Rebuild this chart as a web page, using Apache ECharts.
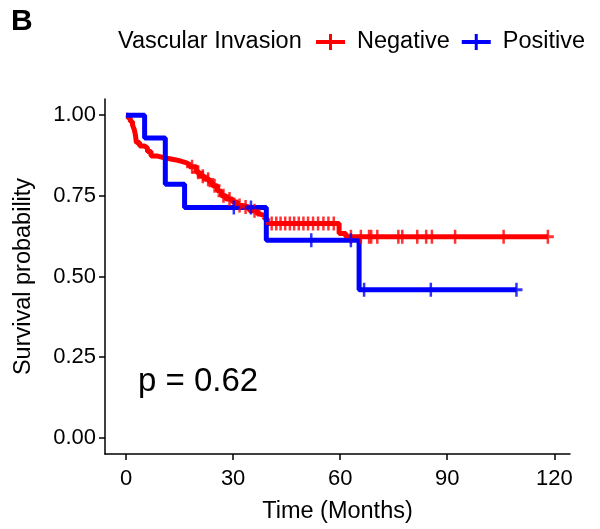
<!DOCTYPE html>
<html>
<head>
<meta charset="utf-8">
<script src="https://cdn.jsdelivr.net/npm/echarts@6/dist/echarts.min.js"></script>
<style>
html,body{margin:0;padding:0;background:#fff;}
#chart{width:600px;height:529px;}
</style>
</head>
<body>
<div id="chart"></div>
<script>
// ---- data ----
var negTimes = [0, 0.6, 1.2, 1.8, 2.3, 2.6, 2.9, 3.8, 5.2, 6.0, 7.0, 8.8, 10.8, 13.6, 15.5, 16.8, 17.8, 19.7, 20.6, 22.0, 23.4, 24.2, 25.6, 26.7, 28.0, 29.8, 31.2, 32.6, 34.6, 36.8, 37.4, 38.8, 39.6, 59.7, 61.6, 118.2];
var negSurv  = [1, 0.99, 0.98, 0.97, 0.955, 0.94, 0.915, 0.904, 0.898, 0.887, 0.873, 0.868, 0.862, 0.857, 0.853, 0.847, 0.84, 0.823, 0.811, 0.801, 0.792, 0.781, 0.765, 0.75, 0.74, 0.731, 0.72, 0.715, 0.704, 0.694, 0.689, 0.679, 0.664, 0.633, 0.623, 0.623];
var negCensor = [18.5, 20.2, 21.5, 23.0, 24.8, 27.3, 29.0, 31.8, 33.5, 36.0, 40.8, 42.1, 43.3, 44.6, 45.9, 47.1, 48.4, 49.7, 51.0, 52.4, 53.8, 55.3, 56.7, 58.2, 63.0, 65.8, 68.1, 68.7, 70.4, 76.3, 77.4, 81.6, 84.1, 85.7, 92.2, 105.8, 118.2];

var posTimes = [0, 5.2, 11.0, 16.4, 39.3, 65.3, 109.4];
var posSurv  = [1, 0.929, 0.786, 0.714, 0.612, 0.459, 0.459];
var posCensor = [30.2, 35.0, 51.9, 63.0, 66.7, 85.4, 109.4];

var xTicks = [0, 30, 60, 90, 120];
var yTicks = [0, 0.25, 0.5, 0.75, 1];
var groupNames = ['Negative', 'Positive'];
var legendTitle = 'Vascular Invasion';
var pText = 'p = 0.62';

// ---- helpers ----
function pairs(t, s) { return t.map(function (v, i) { return [v, s[i]]; }); }
function survAt(t, times, surv) {
  var v = surv[0];
  for (var i = 0; i < times.length; i++) { if (times[i] <= t) v = surv[i]; }
  return v;
}
function censorPts(c, times, surv) { return c.map(function (t) { return [t, survAt(t, times, surv)]; }); }

var RED = '#FF0000', BLUE = '#0000FF';
var plusSym = 'path://M4.75,0 L7.25,0 L7.25,4.75 L12,4.75 L12,7.25 L7.25,7.25 L7.25,12 L4.75,12 L4.75,7.25 L0,7.25 L0,4.75 L4.75,4.75 Z';
var legendIcon = 'path://M0,6 L13,6 L13,0 L16,0 L16,6 L29,6 L29,10 L16,10 L16,16 L13,16 L13,10 L0,10 Z';
var FONT = 'Liberation Sans, Arial, sans-serif';

var chart = echarts.init(document.getElementById('chart'), null, {renderer: 'canvas'});
chart.setOption({
  animation: false,
  backgroundColor: '#fff',
  textStyle: {fontFamily: FONT},
  grid: {left: 105, right: 30, top: 99, bottom: 71, containLabel: false},
  legend: {
    left: 311, top: 25,
    itemWidth: 29, itemHeight: 16, itemGap: 12,
    textStyle: {fontSize: 23.5, color: '#000', fontFamily: FONT, padding: [0, 0, 0, 7]},
    data: [
      {name: groupNames[0], icon: legendIcon, itemStyle: {color: RED}},
      {name: groupNames[1], icon: legendIcon, itemStyle: {color: BLUE}}
    ]
  },
  xAxis: {
    type: 'value', min: -5.9, max: 124.4,
    name: 'Time (Months)', nameLocation: 'middle', nameGap: 46,
    nameTextStyle: {fontSize: 23.5, color: '#000', fontFamily: FONT},
    splitLine: {show: false},
    axisLine: {onZero: false, lineStyle: {color: '#000', width: 1.5}},
    axisTick: {show: true, length: 6, lineStyle: {color: '#000', width: 1.5}, customValues: xTicks},
    axisLabel: {fontSize: 22, color: '#000', margin: 14, fontFamily: FONT, customValues: xTicks}
  },
  yAxis: {
    type: 'value', min: -0.05, max: 1.05,
    name: 'Survival probability', nameLocation: 'middle', nameGap: 69, nameRotate: 90,
    nameTextStyle: {fontSize: 23.5, color: '#000', fontFamily: FONT},
    splitLine: {show: false},
    axisLine: {show: true, onZero: false, lineStyle: {color: '#000', width: 1.5}},
    axisTick: {show: true, length: 6, lineStyle: {color: '#000', width: 1.5}, customValues: yTicks},
    axisLabel: {fontSize: 22, color: '#000', margin: 9, fontFamily: FONT, customValues: yTicks,
      formatter: function (v) { return v.toFixed(2); }}
  },
  graphic: [
    {type: 'text', left: 11, top: 7, style: {text: 'B', font: 'bold 30px ' + FONT, fill: '#000'}},
    {type: 'text', left: 118, top: 30, style: {text: legendTitle, font: '23.5px ' + FONT, fill: '#000'}},
    {type: 'text', left: 138, top: 365, style: {text: pText, font: '33px ' + FONT, fill: '#000'}}
  ],
  series: [
    {name: groupNames[0], type: 'line', step: 'end', data: pairs(negTimes, negSurv),
      showSymbol: false, lineStyle: {color: RED, width: 5}, itemStyle: {color: RED}, z: 2},
    {name: groupNames[1], type: 'line', step: 'end', data: pairs(posTimes, posSurv),
      showSymbol: false, lineStyle: {color: BLUE, width: 5}, itemStyle: {color: BLUE}, z: 3},
    {name: 'negCensor', type: 'scatter', data: censorPts(negCensor, negTimes, negSurv),
      symbol: plusSym, symbolSize: [12, 14], itemStyle: {color: RED}, z: 4},
    {name: 'posCensor', type: 'scatter', data: censorPts(posCensor, posTimes, posSurv),
      symbol: plusSym, symbolSize: [12, 14], itemStyle: {color: BLUE}, z: 5}
  ]
});
</script>
</body>
</html>
